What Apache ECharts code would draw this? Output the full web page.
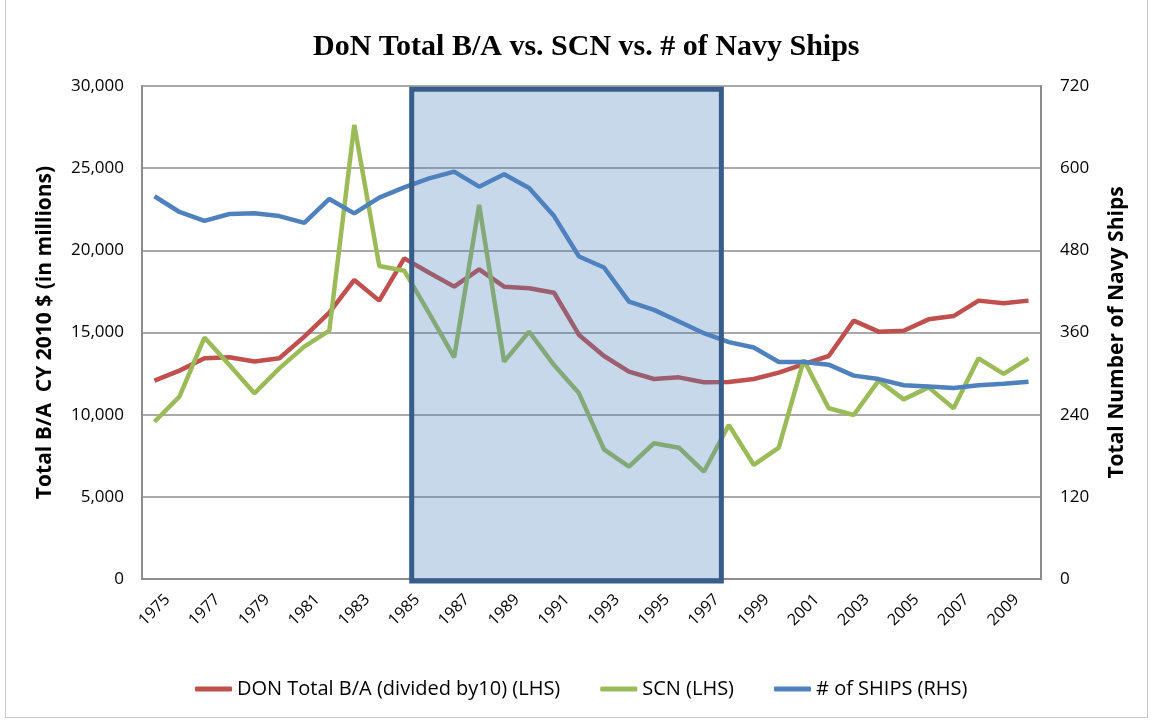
<!DOCTYPE html>
<html>
<head>
<meta charset="utf-8">
<title>DoN Total B/A vs. SCN vs. # of Navy Ships</title>
<script src="https://cdn.jsdelivr.net/npm/echarts@6/dist/echarts.min.js"></script>
<style>
  html, body { margin: 0; padding: 0; background: #fff; }
  #wrap { position: relative; width: 1151px; height: 721px; }
  #chart { width: 1151px; height: 721px; }
  #frame {
    position: absolute; left: 5px; top: -1px; width: 1141px; height: 717px;
    border: 1px solid #c8c8c8; pointer-events: none;
  }
</style>
</head>
<body>
<div id="wrap">
  <div id="chart"></div>
  <div id="frame"></div>
</div>
<script>
// fiscal years on the category axis
const years = []
for (let y = 1975; y <= 2010; y++) years.push(String(y))

// DON Total B/A divided by 10, $M CY2010 (left axis)
const donTotal = [12070, 12680, 13430, 13490, 13230, 13430, 14750, 16210, 18200, 16940,
  19510, 18640, 17790, 18840, 17790, 17690, 17420, 14850, 13570, 12620,
  12170, 12270, 11970, 11990, 12170, 12560, 13080, 13570, 15720, 15050,
  15110, 15800, 16000, 16940, 16780, 16940]

// SCN, $M CY2010 (left axis)
const scn = [9570, 11100, 14690, 13020, 11300, 12820, 14140, 15110, 27630, 19050,
  18760, 16170, 13490, 22760, 13230, 15050, 13020, 11300, 7890, 6840,
  8260, 7990, 6530, 9370, 6940, 7990, 13330, 10390, 9980, 12070,
  10930, 11660, 10390, 13430, 12480, 13430]

// number of navy ships (right axis)
const ships = [559, 536, 523, 533, 534, 530, 520, 555, 534, 557,
  572, 585, 595, 573, 591, 571, 530, 471, 455, 405,
  393, 376, 359, 346, 338, 317, 317, 313, 297, 292,
  283, 281, 279, 283, 285, 288]

// highlighted period (in year units) and left-axis value span
const shadeYears = [1985.3, 1997.7]
const shadeValues = [-120, 29800]

const lhsTicks = { min: 0, max: 30000, interval: 5000 }
const rhsTicks = { min: 0, max: 720, interval: 120 }

const chart = echarts.init(document.getElementById('chart'))

const tickFont = { fontFamily: 'Open Sans', fontSize: 17, color: '#000' }
const gridColor = '#8c8c8c'

const option = {
  animation: false,
  title: {
    text: 'DoN Total B/A vs. SCN vs. # of Navy Ships',
    left: 308,
    top: 27,
    textStyle: {
      fontFamily: 'Liberation Serif',
      fontWeight: 'bold',
      fontSize: 30,
      color: '#000'
    }
  },
  legend: {
    bottom: 17,
    left: 190,
    itemGap: 40,
    itemWidth: 37,
    itemHeight: 5,
    icon: 'roundRect',
    textStyle: { fontFamily: 'Open Sans', fontSize: 20, color: '#000' },
    data: ['DON Total B/A (divided by10) (LHS)', 'SCN (LHS)', '# of SHIPS (RHS)']
  },
  grid: { left: 142, right: 110, top: 86, bottom: 142, containLabel: false },
  xAxis: [
    {
      type: 'category',
      data: years,
      boundaryGap: true,
      axisLine: { lineStyle: { color: gridColor, width: 2 } },
      axisTick: { show: false },
      axisLabel: Object.assign({}, tickFont, {
        interval: 1,
        rotate: 45,
        align: 'center',
        verticalAlign: 'middle',
        margin: 31,
        fontSize: 16
      })
    },
    {
      type: 'value',
      show: false,
      min: 1974.5,
      max: 2010.5
    }
  ],
  yAxis: [
    {
      type: 'value',
      min: lhsTicks.min,
      max: lhsTicks.max,
      interval: lhsTicks.interval,
      name: 'Total B/A  CY 2010 $ (in millions)',
      nameLocation: 'middle',
      nameGap: 86,
      nameTextStyle: { fontFamily: 'Open Sans', fontWeight: 'bold', fontSize: 21, color: '#000' },
      axisLine: { show: true, lineStyle: { color: gridColor, width: 2 } },
      axisTick: { show: false },
      splitLine: { lineStyle: { color: gridColor, width: 1.5 } },
      axisLabel: Object.assign({
        margin: 18,
        formatter: v => v.toLocaleString('en-US')
      }, tickFont)
    },
    {
      type: 'value',
      min: rhsTicks.min,
      max: rhsTicks.max,
      interval: rhsTicks.interval,
      name: 'Total Number of Navy Ships',
      nameLocation: 'middle',
      nameGap: 66,
      nameTextStyle: { fontFamily: 'Open Sans', fontWeight: 'bold', fontSize: 21, color: '#000' },
      axisLine: { show: true, lineStyle: { color: gridColor, width: 2 } },
      axisTick: { show: false },
      splitLine: { show: false },
      axisLabel: Object.assign({ margin: 19 }, tickFont)
    }
  ],
  series: [
    {
      name: 'DON Total B/A (divided by10) (LHS)',
      type: 'line',
      data: donTotal,
      yAxisIndex: 0,
      showSymbol: false,
      symbol: 'none',
      z: 3,
      lineStyle: { color: '#c0504d', width: 4.5 },
      itemStyle: { color: '#c0504d' }
    },
    {
      name: 'SCN (LHS)',
      type: 'line',
      data: scn,
      yAxisIndex: 0,
      showSymbol: false,
      symbol: 'none',
      z: 3,
      lineStyle: { color: '#9bbb59', width: 4.5 },
      itemStyle: { color: '#9bbb59' }
    },
    {
      name: '# of SHIPS (RHS)',
      type: 'line',
      data: ships,
      yAxisIndex: 1,
      showSymbol: false,
      symbol: 'none',
      z: 4,
      lineStyle: { color: '#4f81bd', width: 4.5 },
      itemStyle: { color: '#4f81bd' }
    },
    {
      name: 'shade',
      type: 'custom',
      xAxisIndex: 1,
      yAxisIndex: 0,
      z: 10,
      silent: true,
      data: [[shadeYears[0], shadeValues[0], shadeYears[1], shadeValues[1]]],
      renderItem: function (params, api) {
        const p0 = api.coord([api.value(0), api.value(1)])
        const p1 = api.coord([api.value(2), api.value(3)])
        return {
          type: 'rect',
          shape: { x: p0[0], y: p1[1], width: p1[0] - p0[0], height: p0[1] - p1[1] },
          style: { fill: 'rgba(79,129,189,0.31)', stroke: '#385d8a', lineWidth: 5 }
        }
      }
    }
  ]
}

chart.setOption(option)
window.onresize = function () {
  chart.resize()
}
</script>
</body>
</html>
